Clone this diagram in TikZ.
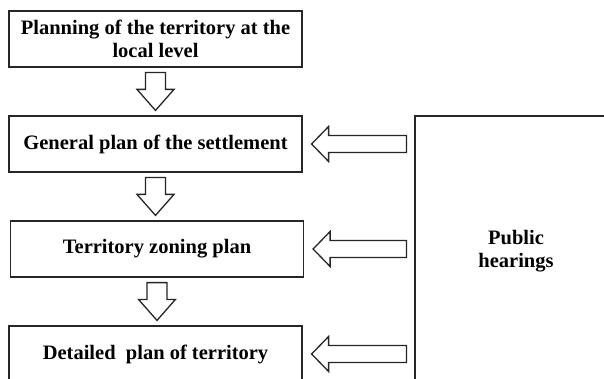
\documentclass[tikz,border=0pt]{standalone}
\usepackage{fontspec}
\setmainfont{Liberation Serif}
\usetikzlibrary{calc}
\tikzset{
  stepbox/.style={draw=black!85, line width=1.2pt, minimum width=293pt, minimum height=56pt, inner sep=0pt, align=center, font=\bfseries\fontsize{20.5}{23}\selectfont},
  hearbox/.style={draw=black!85, line width=1.2pt, minimum width=202pt, minimum height=270pt, inner sep=0pt, align=center, font=\bfseries\fontsize{20.5}{23}\selectfont},
  blockarrow/.style={draw=black!85, line width=1.3pt, fill=white, line join=miter},
}
\newcommand\dnarrow[2]{%
  \draw[blockarrow] let \p1=(#1.south), \p2=(#2.north) in
    (\x1-10pt,\y1-5pt) -- (\x1+10pt,\y1-5pt) -- (\x1+10pt,\y2+26pt) -- (\x1+18.5pt,\y2+26pt)
    -- (\x1,\y2+5pt) -- (\x1-18.5pt,\y2+26pt) -- (\x1-10pt,\y2+26pt) -- cycle;}
\newcommand\lfarrow[2]{%
  \draw[blockarrow] let \p1=(#1.east), \p2=(#2.west) in
    (\x1+9pt,\y1) -- (\x1+26pt,\y1+17.5pt) -- (\x1+26pt,\y1+8.5pt) -- (\x2-8pt,\y1+8.5pt)
    -- (\x2-8pt,\y1-8.5pt) -- (\x1+26pt,\y1-8.5pt) -- (\x1+26pt,\y1-17.5pt) -- cycle;}
\begin{document}
\begin{tikzpicture}[x=1pt,y=-1pt]
\useasboundingbox (0,0) rectangle (604,379);
\clip (0,0) rectangle (604,379);
\fill[white] (0,0) rectangle (604,379);
\node[stepbox] (b1) at (155.5,39) {Planning of the territory at the\\local level};
\node[stepbox] (b2) at (155.5,144) {General plan of the settlement};
\node[stepbox] (b3) at (157,249) {Territory zoning plan};
\node[stepbox] (b4) at (155.5,354) {Detailed\ \ plan of territory};
\node[hearbox] (h) at (516,251) {Public\\hearings};
\dnarrow{b1}{b2}
\dnarrow{b2}{b3}
\dnarrow{b3}{b4}
\lfarrow{b2}{h}
\lfarrow{b3}{h}
\lfarrow{b4}{h}
\end{tikzpicture}
\end{document}
